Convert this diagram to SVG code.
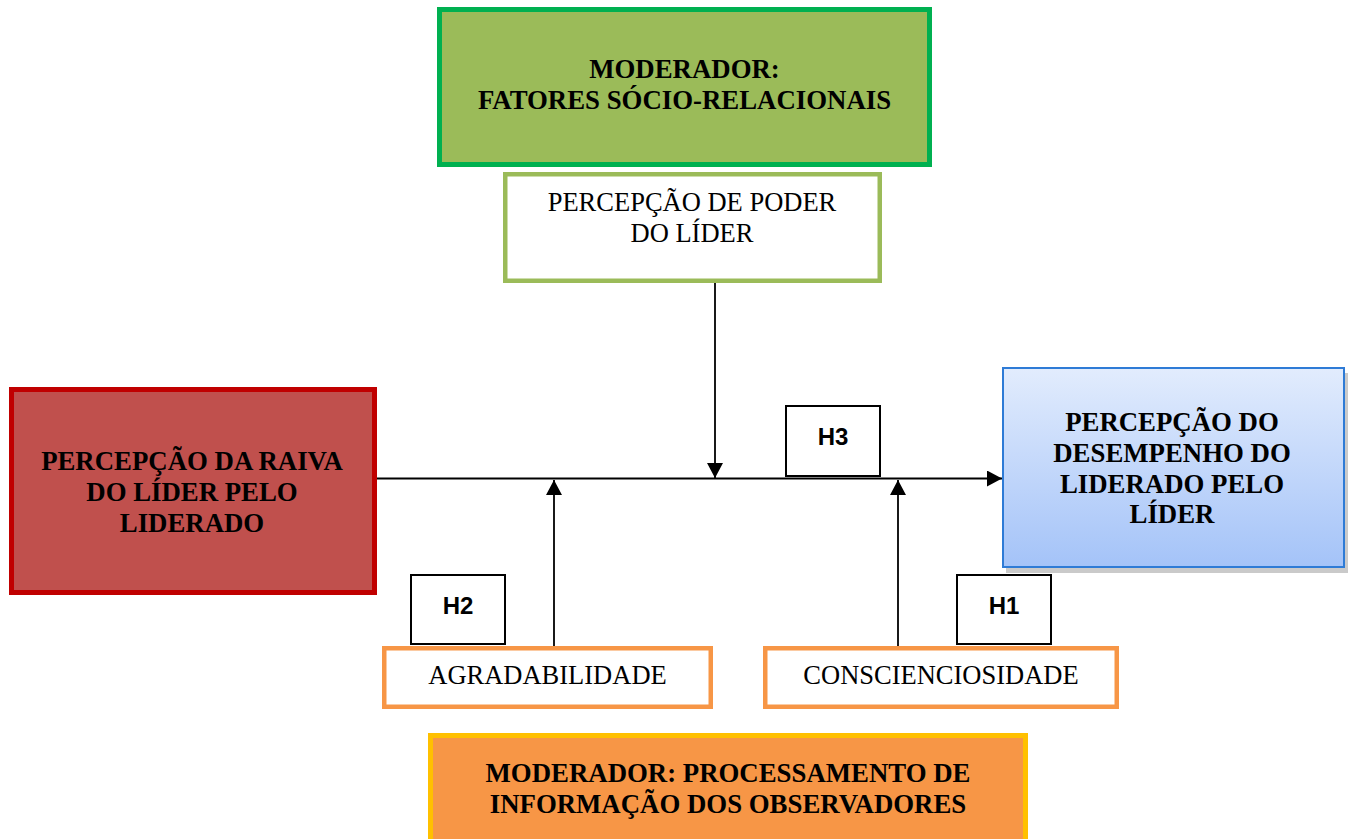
<svg xmlns="http://www.w3.org/2000/svg" width="1348" height="839" viewBox="0 0 1348 839">
<style>
.b{font-family:"Liberation Serif","Times New Roman",serif;font-weight:bold;font-size:26.8px;fill:#000;text-anchor:middle}
.r{font-family:"Liberation Serif","Times New Roman",serif;font-size:26.5px;fill:#000;text-anchor:middle}
.h{font-family:"Liberation Sans",Arial,sans-serif;font-weight:bold;font-size:24px;fill:#000;text-anchor:middle}
.hb{fill:#fff;stroke:#000;stroke-width:2}
.ob{fill:#fff;stroke:#F79646;stroke-width:4.5}
.c{stroke:#000;stroke-width:1.8;fill:none}
</style>
<defs>
<marker id="ah" markerUnits="userSpaceOnUse" markerWidth="16" markerHeight="16" refX="15" refY="8" orient="auto">
<path d="M0,0 L15,8 L0,16 z" fill="#000"/>
</marker>
<linearGradient id="bg" x1="0" y1="0" x2="0" y2="1">
<stop offset="0" stop-color="#E2ECFD"/>
<stop offset="1" stop-color="#A4C3F8"/>
</linearGradient>
</defs>
<rect width="1348" height="839" fill="#fff"/>

<g id="connectors">
<line class="c" x1="377" y1="478.5" x2="1002" y2="478.5" marker-end="url(#ah)"/>
<line class="c" x1="715" y1="283" x2="715" y2="478" marker-end="url(#ah)"/>
<line class="c" x1="554" y1="647" x2="554" y2="480" marker-end="url(#ah)"/>
<line class="c" x1="898" y1="647" x2="898" y2="480" marker-end="url(#ah)"/>
</g>

<g id="mod-socio">
<rect x="439.5" y="9.5" width="490" height="155" fill="#9BBB59" stroke="#00B050" stroke-width="5"/>
<text class="b" x="684.5" y="78">MODERADOR:</text>
<text class="b" x="684.5" y="109">FATORES SÓCIO-RELACIONAIS</text>
</g>

<g id="poder">
<rect x="505.25" y="174.25" width="374.5" height="106.5" fill="#fff" stroke="#9BBB59" stroke-width="4.5"/>
<text class="r" x="692" y="211">PERCEPÇÃO DE PODER</text>
<text class="r" x="692" y="242">DO LÍDER</text>
</g>

<g id="raiva">
<rect x="11.5" y="389.5" width="363" height="203" fill="#C0504D" stroke="#C00000" stroke-width="5"/>
<text class="b" x="192" y="470">PERCEPÇÃO DA RAIVA</text>
<text class="b" x="192" y="501">DO LÍDER PELO</text>
<text class="b" x="192" y="532">LIDERADO</text>
</g>

<g id="desempenho">
<rect x="1006" y="373" width="342" height="200" fill="#cacaca"/>
<rect x="1003" y="368" width="341" height="199" fill="url(#bg)" stroke="#2E7BD6" stroke-width="2"/>
<text class="b" x="1172" y="431">PERCEPÇÃO DO</text>
<text class="b" x="1172" y="462">DESEMPENHO DO</text>
<text class="b" x="1172" y="492.5">LIDERADO PELO</text>
<text class="b" x="1172" y="523">LÍDER</text>
</g>

<g id="h3">
<rect class="hb" x="786" y="406" width="94" height="70"/>
<text class="h" x="833" y="445">H3</text>
</g>

<g id="h2">
<rect class="hb" x="411" y="575" width="94" height="69"/>
<text class="h" x="458" y="614">H2</text>
</g>

<g id="h1">
<rect class="hb" x="957" y="575" width="94" height="69"/>
<text class="h" x="1004" y="614">H1</text>
</g>

<g id="agradabilidade">
<rect class="ob" x="384.25" y="648.25" width="326.5" height="58.5"/>
<text class="r" x="547.5" y="684">AGRADABILIDADE</text>
</g>

<g id="conscienciosidade">
<rect class="ob" x="765.25" y="648.25" width="351.5" height="58.5"/>
<text class="r" x="941" y="684">CONSCIENCIOSIDADE</text>
</g>

<g id="mod-processamento">
<rect x="430.5" y="735.5" width="595" height="120" fill="#F79646" stroke="#FFC000" stroke-width="5"/>
<text class="b" x="728" y="782">MODERADOR: PROCESSAMENTO DE</text>
<text class="b" x="728" y="813">INFORMAÇÃO DOS OBSERVADORES</text>
</g>
</svg>
